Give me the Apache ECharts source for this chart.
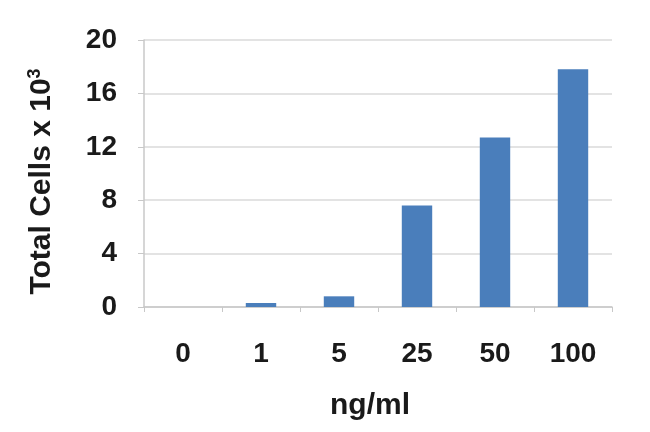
<!DOCTYPE html>
<html>
<head>
<meta charset="utf-8">
<script src="https://cdn.jsdelivr.net/npm/echarts@6/dist/echarts.min.js"></script>
<style>
html,body{margin:0;padding:0;background:#fff;}
#chart{width:650px;height:432px;}
</style>
</head>
<body>
<div id="chart"></div>
<script>
var categories = ['0', '1', '5', '25', '50', '100'];
var totalCells = [0, 0.3, 0.8, 7.6, 12.7, 17.8];
var yTicks = { min: 0, max: 20, interval: 4 };
var xTitle = 'ng/ml';

var chart = echarts.init(document.getElementById('chart'), null, {renderer: 'canvas'});
var font = 'Liberation Sans, Arial, sans-serif';
chart.setOption({
  animation: false,
  backgroundColor: '#fff',
  grid: { left: 144, right: 38, top: 40, bottom: 125 },
  xAxis: {
    type: 'category',
    data: categories,
    name: xTitle,
    nameLocation: 'middle',
    nameGap: 84,
    nameTextStyle: { fontFamily: font, fontWeight: 'bold', fontSize: 30, color: '#1a1a1a', padding: [0, 16, 0, 0] },
    axisLine: { show: true, lineStyle: { color: '#c8c8c8', width: 1.5 } },
    axisTick: { show: true, length: 5, lineStyle: { color: '#c8c8c8' } },
    axisLabel: { fontFamily: font, fontWeight: 'bold', fontSize: 28, color: '#1a1a1a', margin: 33 }
  },
  yAxis: {
    type: 'value',
    min: yTicks.min, max: yTicks.max, interval: yTicks.interval,
    name: 'Total Cells x 10{sup|3}',
    nameLocation: 'middle',
    nameGap: 86,
    nameRotate: 90,
    nameTextStyle: {
      fontFamily: font, fontWeight: 'bold', fontSize: 30, color: '#1a1a1a', padding: [0, 16, 0, 0],
      rich: { sup: { fontFamily: font, fontSize: 18, color: '#1a1a1a', verticalAlign: 'top', padding: [0,0,14,0] } }
    },
    axisLine: { show: true, lineStyle: { color: '#c8c8c8', width: 1.5 } },
    axisTick: { show: true, length: 6, lineStyle: { color: '#c8c8c8' } },
    axisLabel: { fontFamily: font, fontWeight: 'bold', fontSize: 28, color: '#1a1a1a', margin: 27 },
    splitLine: { show: true, lineStyle: { color: '#dadada', width: 1.5 } }
  },
  series: [{
    type: 'bar',
    data: totalCells,
    barWidth: '39%',
    itemStyle: { color: '#4a7ebb' }
  }]
});
</script>
</body>
</html>
